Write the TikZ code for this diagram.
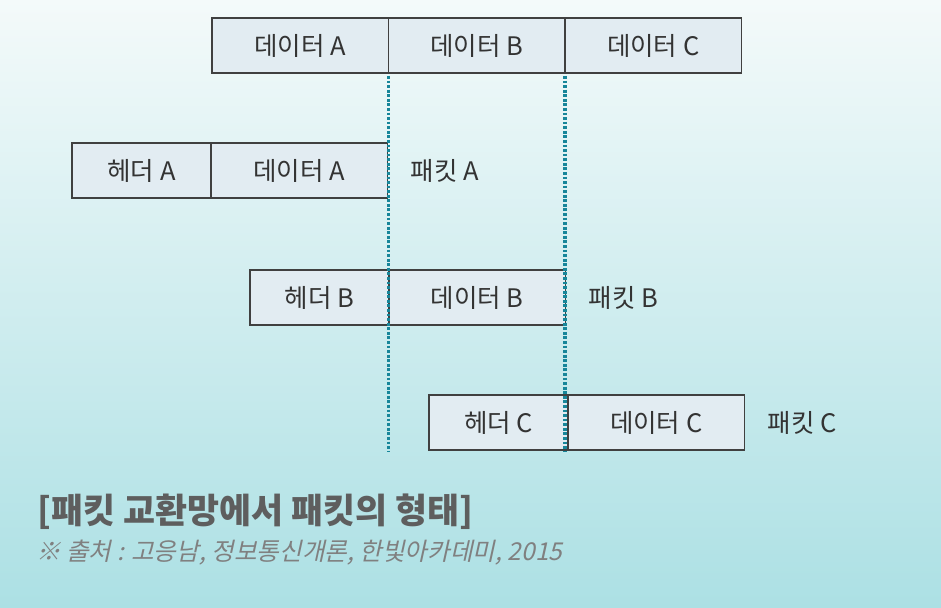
\documentclass[tikz,border=0pt]{standalone}
\usepackage{fontspec}
\setmainfont{Noto Sans CJK KR}
\newfontfamily\capfont[FakeSlant=0.22]{Noto Sans CJK KR}
\usetikzlibrary{positioning}

\definecolor{bgtop}{HTML}{F4FAFA}
\definecolor{bgbot}{HTML}{ACE0E4}
\definecolor{cellfill}{HTML}{E2ECF2}
\definecolor{cutline}{HTML}{17869A}
\definecolor{titlegray}{HTML}{5E5E5E}

\begin{document}
\begin{tikzpicture}[
    cell/.style={rectangle, draw=black!75, line width=0.9pt, fill=cellfill, minimum height=1.1cm, inner sep=0pt, outer sep=0pt, font=\fontsize{14.5}{16}\selectfont, text=black!80},
    datacell/.style={cell, minimum width=3.53cm},
    headcell/.style={cell, minimum width=2.78cm},
    pktlabel/.style={font=\fontsize{14.5}{16}\selectfont, text=black!80, anchor=west},
    cut/.style={draw=cutline, line width=2.2pt, dash pattern=on 1.6pt off 1pt}
]

% Background
\fill[top color=bgtop, bottom color=bgbot] (0,0) rectangle (18.82,-12.16);
\useasboundingbox (0,0) rectangle (18.82,-12.16);

% Original data
\node[datacell, anchor=north west] (dA) at (4.24,-0.36) {데이터 A};
\node[datacell, right=0pt of dA] (dB) {데이터 B};
\node[datacell, right=0pt of dB] (dC) {데이터 C};

% Packet A
\node[headcell, anchor=north west] (hA) at (1.44,-2.86) {헤더 A};
\node[datacell, right=0pt of hA] (pdA) {데이터 A};
\node[pktlabel, right=0.34cm of pdA] (lA) {패킷 A};

% Packet B
\node[headcell, anchor=north west] (hB) at (5.0,-5.4) {헤더 B};
\node[datacell, right=0pt of hB] (pdB) {데이터 B};
\node[pktlabel, right=0.34cm of pdB] (lB) {패킷 B};

% Packet C
\node[headcell, anchor=north west] (hC) at (8.58,-7.9) {헤더 C};
\node[datacell, right=0pt of hC] (pdC) {데이터 C};
\node[pktlabel, right=0.34cm of pdC] (lC) {패킷 C};

% Cut lines
\coordinate (endAB) at (dA.south east |- 0,-9.04);
\coordinate (endBC) at (dB.south east |- 0,-9.04);
\draw[cut] ([yshift=-0.06cm]dA.south east) -- (endAB);
\draw[cut] ([yshift=-0.06cm]dB.south east) -- (endBC);

% Caption
\node[anchor=west, font=\fontsize{19.8}{23}\selectfont\bfseries, text=titlegray] (title) at (0.62,-10.24) {[패킷 교환망에서 패킷의 형태]};
\node[anchor=west, font=\fontsize{14}{16}\selectfont\capfont, text=black!50] (src) at (0.6,-11.06) {※ 출처 : 고응남, 정보통신개론, 한빛아카데미, 2015};

\end{tikzpicture}
\end{document}
